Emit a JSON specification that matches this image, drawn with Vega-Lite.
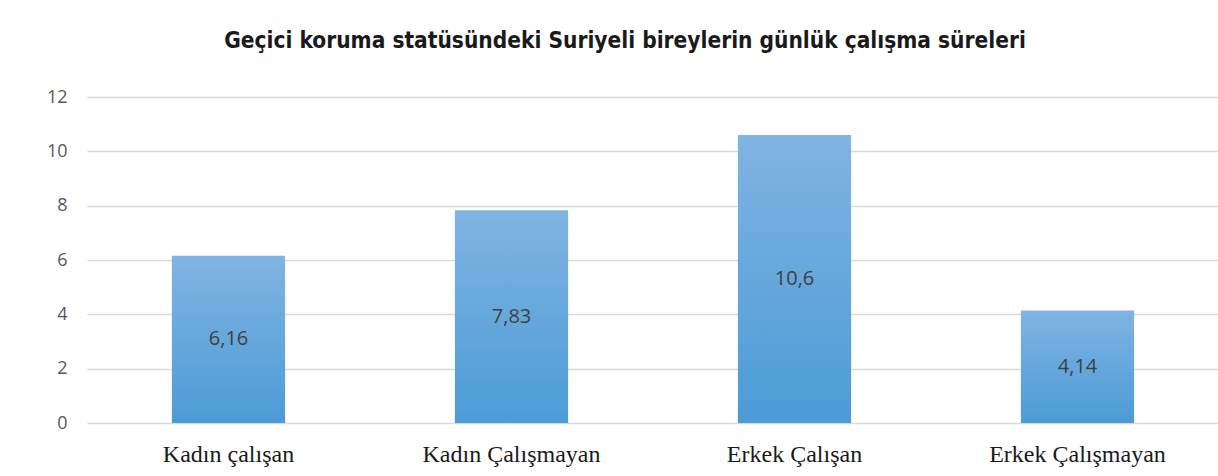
{
  "$schema": "https://vega.github.io/schema/vega-lite/v6.json",
  "autosize": "none",
  "width": 1132,
  "height": 326,
  "padding": {"left": 87, "top": 97, "right": 0, "bottom": 53},
  "background": "white",
  "title": {
    "text": "Geçici koruma statüsündeki Suriyeli bireylerin günlük çalışma süreleri",
    "font": "DejaVu Sans Condensed",
    "fontSize": 22.5,
    "fontWeight": "bold",
    "color": "#1a1a1a",
    "offset": 36,
    "dx": -28
  },
  "data": {
    "values": [
      {"grup": "Kadın çalışan", "saat": 6.16, "etiket": "6,16"},
      {"grup": "Kadın Çalışmayan", "saat": 7.83, "etiket": "7,83"},
      {"grup": "Erkek Çalışan", "saat": 10.6, "etiket": "10,6"},
      {"grup": "Erkek Çalışmayan", "saat": 4.14, "etiket": "4,14"}
    ]
  },
  "encoding": {
    "x": {
      "field": "grup",
      "type": "nominal",
      "sort": null,
      "scale": {"paddingInner": 0.6, "paddingOuter": 0.3},
      "axis": {
        "title": null,
        "labelAngle": 0,
        "labelFont": "Liberation Serif",
        "labelFontSize": 24,
        "labelColor": "#1a1a1a",
        "labelPadding": 19,
        "ticks": false,
        "domain": false
      }
    }
  },
  "layer": [
    {
      "mark": {
        "type": "bar",
        "color": {
          "gradient": "linear",
          "x1": 0, "y1": 0, "x2": 0, "y2": 1,
          "stops": [
            {"offset": 0, "color": "#80b4e3"},
            {"offset": 1, "color": "#4c9bd6"}
          ]
        }
      },
      "encoding": {
        "y": {
          "field": "saat",
          "type": "quantitative",
          "scale": {"domain": [0, 12]},
          "axis": {
            "title": null,
            "values": [0, 2, 4, 6, 8, 10, 12],
            "labelFont": "Open Sans",
            "labelFontSize": 18,
            "labelColor": "#595959",
            "labelPadding": 20,
            "ticks": false,
            "domain": false,
            "gridColor": "#d9d9d9",
            "gridWidth": 1.5
          }
        }
      }
    },
    {
      "mark": {
        "type": "text",
        "font": "Open Sans",
        "fontSize": 20,
        "color": "#404040",
        "baseline": "middle"
      },
      "encoding": {
        "y": {
          "field": "saat",
          "type": "quantitative",
          "scale": {"domain": [0, 24]},
          "axis": null
        },
        "text": {"field": "etiket"}
      }
    }
  ],
  "resolve": {"scale": {"y": "independent"}},
  "config": {"view": {"stroke": null}}
}
